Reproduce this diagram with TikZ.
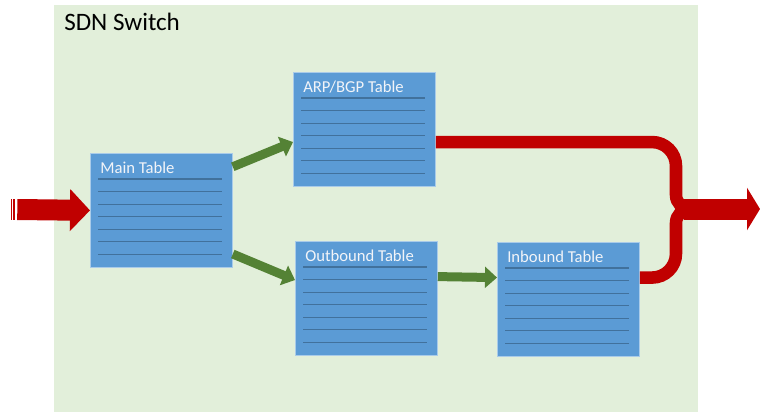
\documentclass[tikz,border=0pt]{standalone}
\usepackage{fontspec}
\setmainfont{Carlito}
\usepackage{xcolor}
\usetikzlibrary{positioning,calc,arrows.meta}
\definecolor{swgreen}{HTML}{E2EFDA}
\definecolor{tblblue}{HTML}{5B9BD5}
\definecolor{tblrim}{HTML}{A9CBE9}
\definecolor{rowline}{HTML}{41719C}
\definecolor{tbltext}{HTML}{F2F4F8}
\definecolor{flowgreen}{HTML}{548235}
\definecolor{pktred}{HTML}{C00000}

\begin{document}
\begin{tikzpicture}[x=0.75pt, y=0.75pt,
  tbl/.style={draw=tblrim, line width=0.6pt, fill=tblblue, anchor=north west,
    minimum width=106.5pt, minimum height=85.5pt, inner sep=0pt},
  ttl/.style={font=\fontsize{12.5}{15}\selectfont, text=tbltext, anchor=base west, inner sep=0pt},
  row/.style={draw=rowline, line width=0.7pt},
  flow/.style={draw=flowgreen, line width=6.75pt, -{Triangle[length=9pt, width=15.5pt]}},
  band/.style={draw=pktred, line width=9.4pt},
  feed/.style={draw=pktred, line width=15.75pt, -{Triangle[length=15pt, width=30.75pt]}}]
\useasboundingbox (0,0) rectangle (760,412);
\fill[swgreen] (54,0) rectangle (698,407);
\node[anchor=base west, inner sep=0pt, font=\fontsize{18.8}{22}\selectfont] (sw) at (64,382) {SDN Switch};
% flow tables
\node[tbl] (main) at (90,259) {};
\node[tbl] (arp)  at (293,340) {};
\node[tbl] (outb) at (295,171) {};
\node[tbl] (inb)  at (497,170) {};
\node[ttl] (main-t) at ($(main.north west)+(10,-20.5)$) {Main Table};
\node[ttl] (arp-t)  at ($(arp.north west)+(10,-20.5)$) {ARP/BGP Table};
\node[ttl] (outb-t) at ($(outb.north west)+(10,-20.5)$) {Outbound Table};
\node[ttl] (inb-t)  at ($(inb.north west)+(10,-20.5)$) {Inbound Table};
\foreach \t in {main,arp,outb,inb} {
  \draw[row, line width=0.95pt] ($(\t.north west)+(8,-26)$) -- ($(\t.north east)+(-11,-26)$);
  \foreach \k in {1,...,6}
    \draw[row] ($(\t.north west)+(8,{-26-12.5*\k})$) -- ($(\t.north east)+(-11,{-26-12.5*\k})$);
}
% incoming packets
\fill[pktred] (11,192) rectangle (12.3,213);
\fill[pktred] (13.3,192) rectangle (14.7,213);
\coordinate (in) at (17.3,202.5);
\draw[feed] (in) -- (main.west);
% table to table
\draw[flow] ($(main.north east)!0.12!(main.south east)$) -- ($(arp.north west)!0.61!(arp.south west)$);
\draw[flow] ($(main.north east)!0.88!(main.south east)$) -- ($(outb.north west)!0.34!(outb.south west)$);
\draw[flow] ($(outb.north east)!0.31!(outb.south east)$) -- ($(inb.north west)!0.31!(inb.south west)$);
% outgoing packets
\coordinate (bend) at (652,0);
\coordinate (arpout) at ($(arp.north east)!0.61!(arp.south east)$);
\coordinate (inbout) at ($(inb.north east)!0.31!(inb.south east)$);
\coordinate (join) at (684,203);
\coordinate (exit) at (760,203);
\draw[band] (arpout) -- (arpout -| bend) to[out=0,in=90] ++(24,-24) -- (676,217) to[out=-90,in=180] (690,203);
\draw[band] (inbout) -- (inbout -| bend) to[out=0,in=-90] ++(24,24) -- (676,189) to[out=90,in=180] (690,203);
\draw[feed, -{Triangle[length=9.75pt, width=31.5pt]}] (join) -- (exit);
\end{tikzpicture}
\end{document}
